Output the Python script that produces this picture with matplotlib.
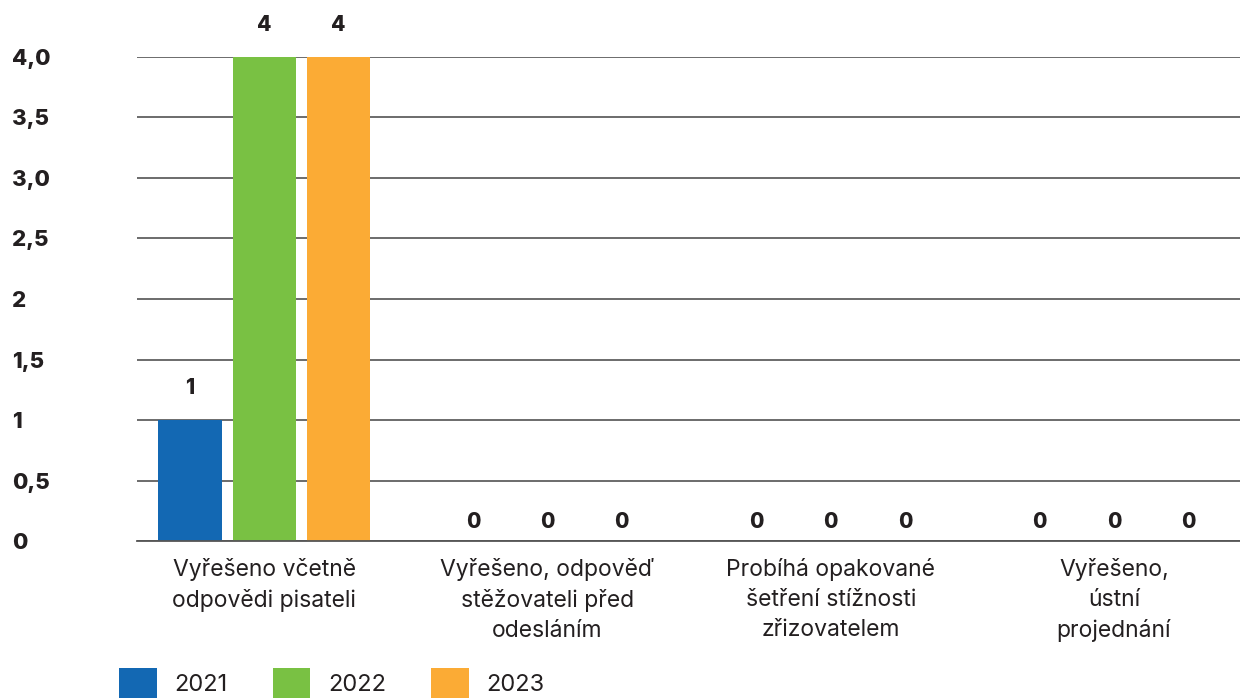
import numpy as np
import matplotlib
matplotlib.use('Agg')
import matplotlib.pyplot as plt

plt.rcParams['font.family'] = ['Inter', 'DejaVu Sans']

# Data
categories = ['Vyřešeno včetně\nodpovědi pisateli',
              'Vyřešeno, odpověď\nstěžovateli před\nodesláním',
              'Probíhá opakované\nšetření stížnosti\nzřizovatelem',
              'Vyřešeno,\nústní\nprojednání']
years = ['2021', '2022', '2023']
values_2021 = [1, 0, 0, 0]
values_2022 = [4, 0, 0, 0]
values_2023 = [4, 0, 0, 0]
colors = ['#1368b3', '#79c143', '#fbab35']
ytick_values = [0, 0.5, 1, 1.5, 2, 2.5, 3, 3.5, 4]
ytick_labels = ['0', '0,5', '1', '1,5', '2', '2,5', '3,0', '3,5', '4,0']

text_color = '#231f20'
series = [values_2021, values_2022, values_2023]

fig = plt.figure(figsize=(12.4, 7), dpi=100)
ax = fig.add_axes([0.1105, 0.2271, 0.8895, 0.6915])

x = np.arange(len(categories))
width = 0.223
offset = 0.262

for i, (vals, year, col) in enumerate(zip(series, years, colors)):
    pos = x + (i - 1) * offset
    ax.bar(pos, vals, width=width, color=col, label=year, zorder=2)
    for px, v in zip(pos, vals):
        dy = 23 if v > 0 else 14
        ax.annotate(str(v), (px, v), xytext=(0, dy), textcoords='offset points',
                    ha='center', va='center', fontsize=15, fontweight='heavy',
                    color=text_color, annotation_clip=False)

ax.set_xlim(-0.449, 3.445)
ax.set_ylim(0, 4)
ax.set_yticks(ytick_values)
ax.set_yticklabels(ytick_labels, ha='left', fontsize=16, fontweight='heavy',
                   color=text_color)
ax.tick_params(axis='y', length=0, pad=90)
ax.set_xticks(x)
ax.set_xticklabels(categories, fontsize=16.5, color=text_color, linespacing=1.48)
ax.tick_params(axis='x', length=0, pad=12)

ax.yaxis.grid(True, color='#444444', linewidth=1.1, zorder=0)
ax.set_axisbelow(True)
for s in ['top', 'right', 'left']:
    ax.spines[s].set_visible(False)
ax.spines['bottom'].set_color('#555555')
ax.spines['bottom'].set_linewidth(1.3)
ax.spines['bottom'].set_zorder(3)

handles, labels = ax.get_legend_handles_labels()
fig.legend(handles, labels, loc='center left', bbox_to_anchor=(0.096, 0.024),
           ncol=3, frameon=False, fontsize=17, handlelength=1.6,
           handleheight=1.6, handletextpad=0.75, columnspacing=1.9,
           borderpad=0, borderaxespad=0, labelcolor=text_color)

fig.savefig('out.png', dpi=100)
